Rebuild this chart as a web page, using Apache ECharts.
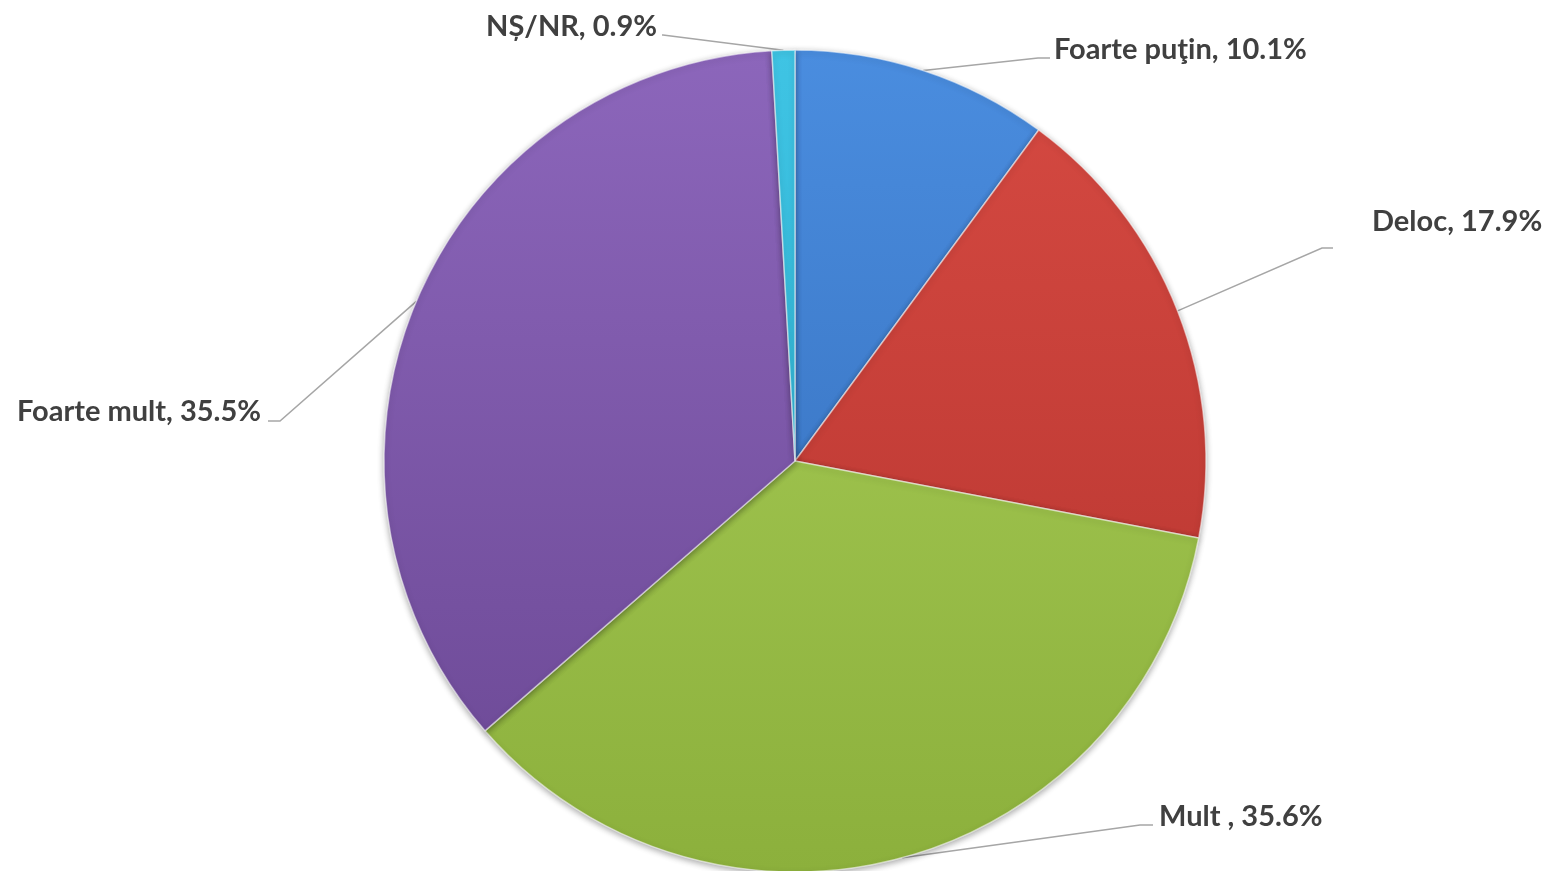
<!DOCTYPE html>
<html>
<head>
<meta charset="utf-8">
<script src="https://cdn.jsdelivr.net/npm/echarts@6/dist/echarts.min.js"></script>
<style>
html,body{margin:0;padding:0;background:#ffffff;}
#chart{width:1546px;height:871px;}
</style>
</head>
<body>
<div id="chart"></div>
<script>
// ---- data ----
const categories = ['Foarte puţin', 'Deloc', 'Mult ', 'Foarte mult', 'NȘ/NR'];
const values = [10.1, 17.9, 35.6, 35.5, 0.9];

// ---- styles ----
const colorTop = ['#4a8ddf', '#d64a42', '#abd05a', '#8c66bb', '#3fc4e4'];
const colorBottom = ['#3168b4', '#b3322d', '#8cb03c', '#6a4793', '#25a6c6'];

// label placement: x, y of text anchor, align, elbow point of leader line, end point of leader line
const labelPlaces = [
  {x: 1054, y: 50,  align: 'left',  ex: 1038, ey: 58,  lx: 1050, ly: 58},
  {x: 1372, y: 222, align: 'left',  ex: 1322, ey: 248, lx: 1333, ly: 248},
  {x: 1159, y: 817, align: 'left',  ex: 1140, ey: 825, lx: 1153, ly: 825},
  {x: 261,  y: 412, align: 'right', ex: 280,  ey: 421, lx: 268,  ly: 421},
  {x: 657,  y: 27,  align: 'right', ex: 663,  ey: 35,  lx: 662,  ly: 35}
];

const chart = echarts.init(document.getElementById('chart'), null, {renderer: 'canvas'});

const seriesData = categories.map((name, i) => ({
  name: name,
  value: values[i],
  itemStyle: {
    color: {
      type: 'linear', x: 0, y: 50, x2: 0, y2: 872, global: true,
      colorStops: [
        {offset: 0, color: colorTop[i]},
        {offset: 1, color: colorBottom[i]}
      ]
    }
  }
}));

chart.setOption({
  backgroundColor: '#ffffff',
  animation: false,
  series: [{
    type: 'pie',
    center: [795, 461],
    radius: 411,
    startAngle: 90,
    clockwise: true,
    avoidLabelOverlap: false,
    data: seriesData,
    itemStyle: {
      borderColor: 'rgba(255,255,255,0.55)',
      borderWidth: 1.5,
      shadowBlur: 6,
      shadowOffsetY: 2,
      shadowColor: 'rgba(0,0,0,0.35)'
    },
    label: {
      show: true,
      position: 'outside',
      formatter: function (p) { return p.name + ', ' + p.value.toFixed(1) + '%'; },
      fontFamily: 'Lato',
      fontWeight: 'bold',
      fontSize: 29,
      color: '#404040'
    },
    labelLine: {
      show: true,
      lineStyle: {color: '#a6a6a6', width: 1.5}
    },
    labelLayout: function (params) {
      const lp = labelPlaces[params.dataIndex];
      const start = params.labelLinePoints ? params.labelLinePoints[0] : [lp.ex, lp.ey];
      return {
        x: lp.x,
        y: lp.y,
        align: lp.align,
        verticalAlign: 'middle',
        labelLinePoints: [start, [lp.ex, lp.ey], [lp.lx, lp.ly]]
      };
    }
  }]
});
</script>
</body>
</html>
